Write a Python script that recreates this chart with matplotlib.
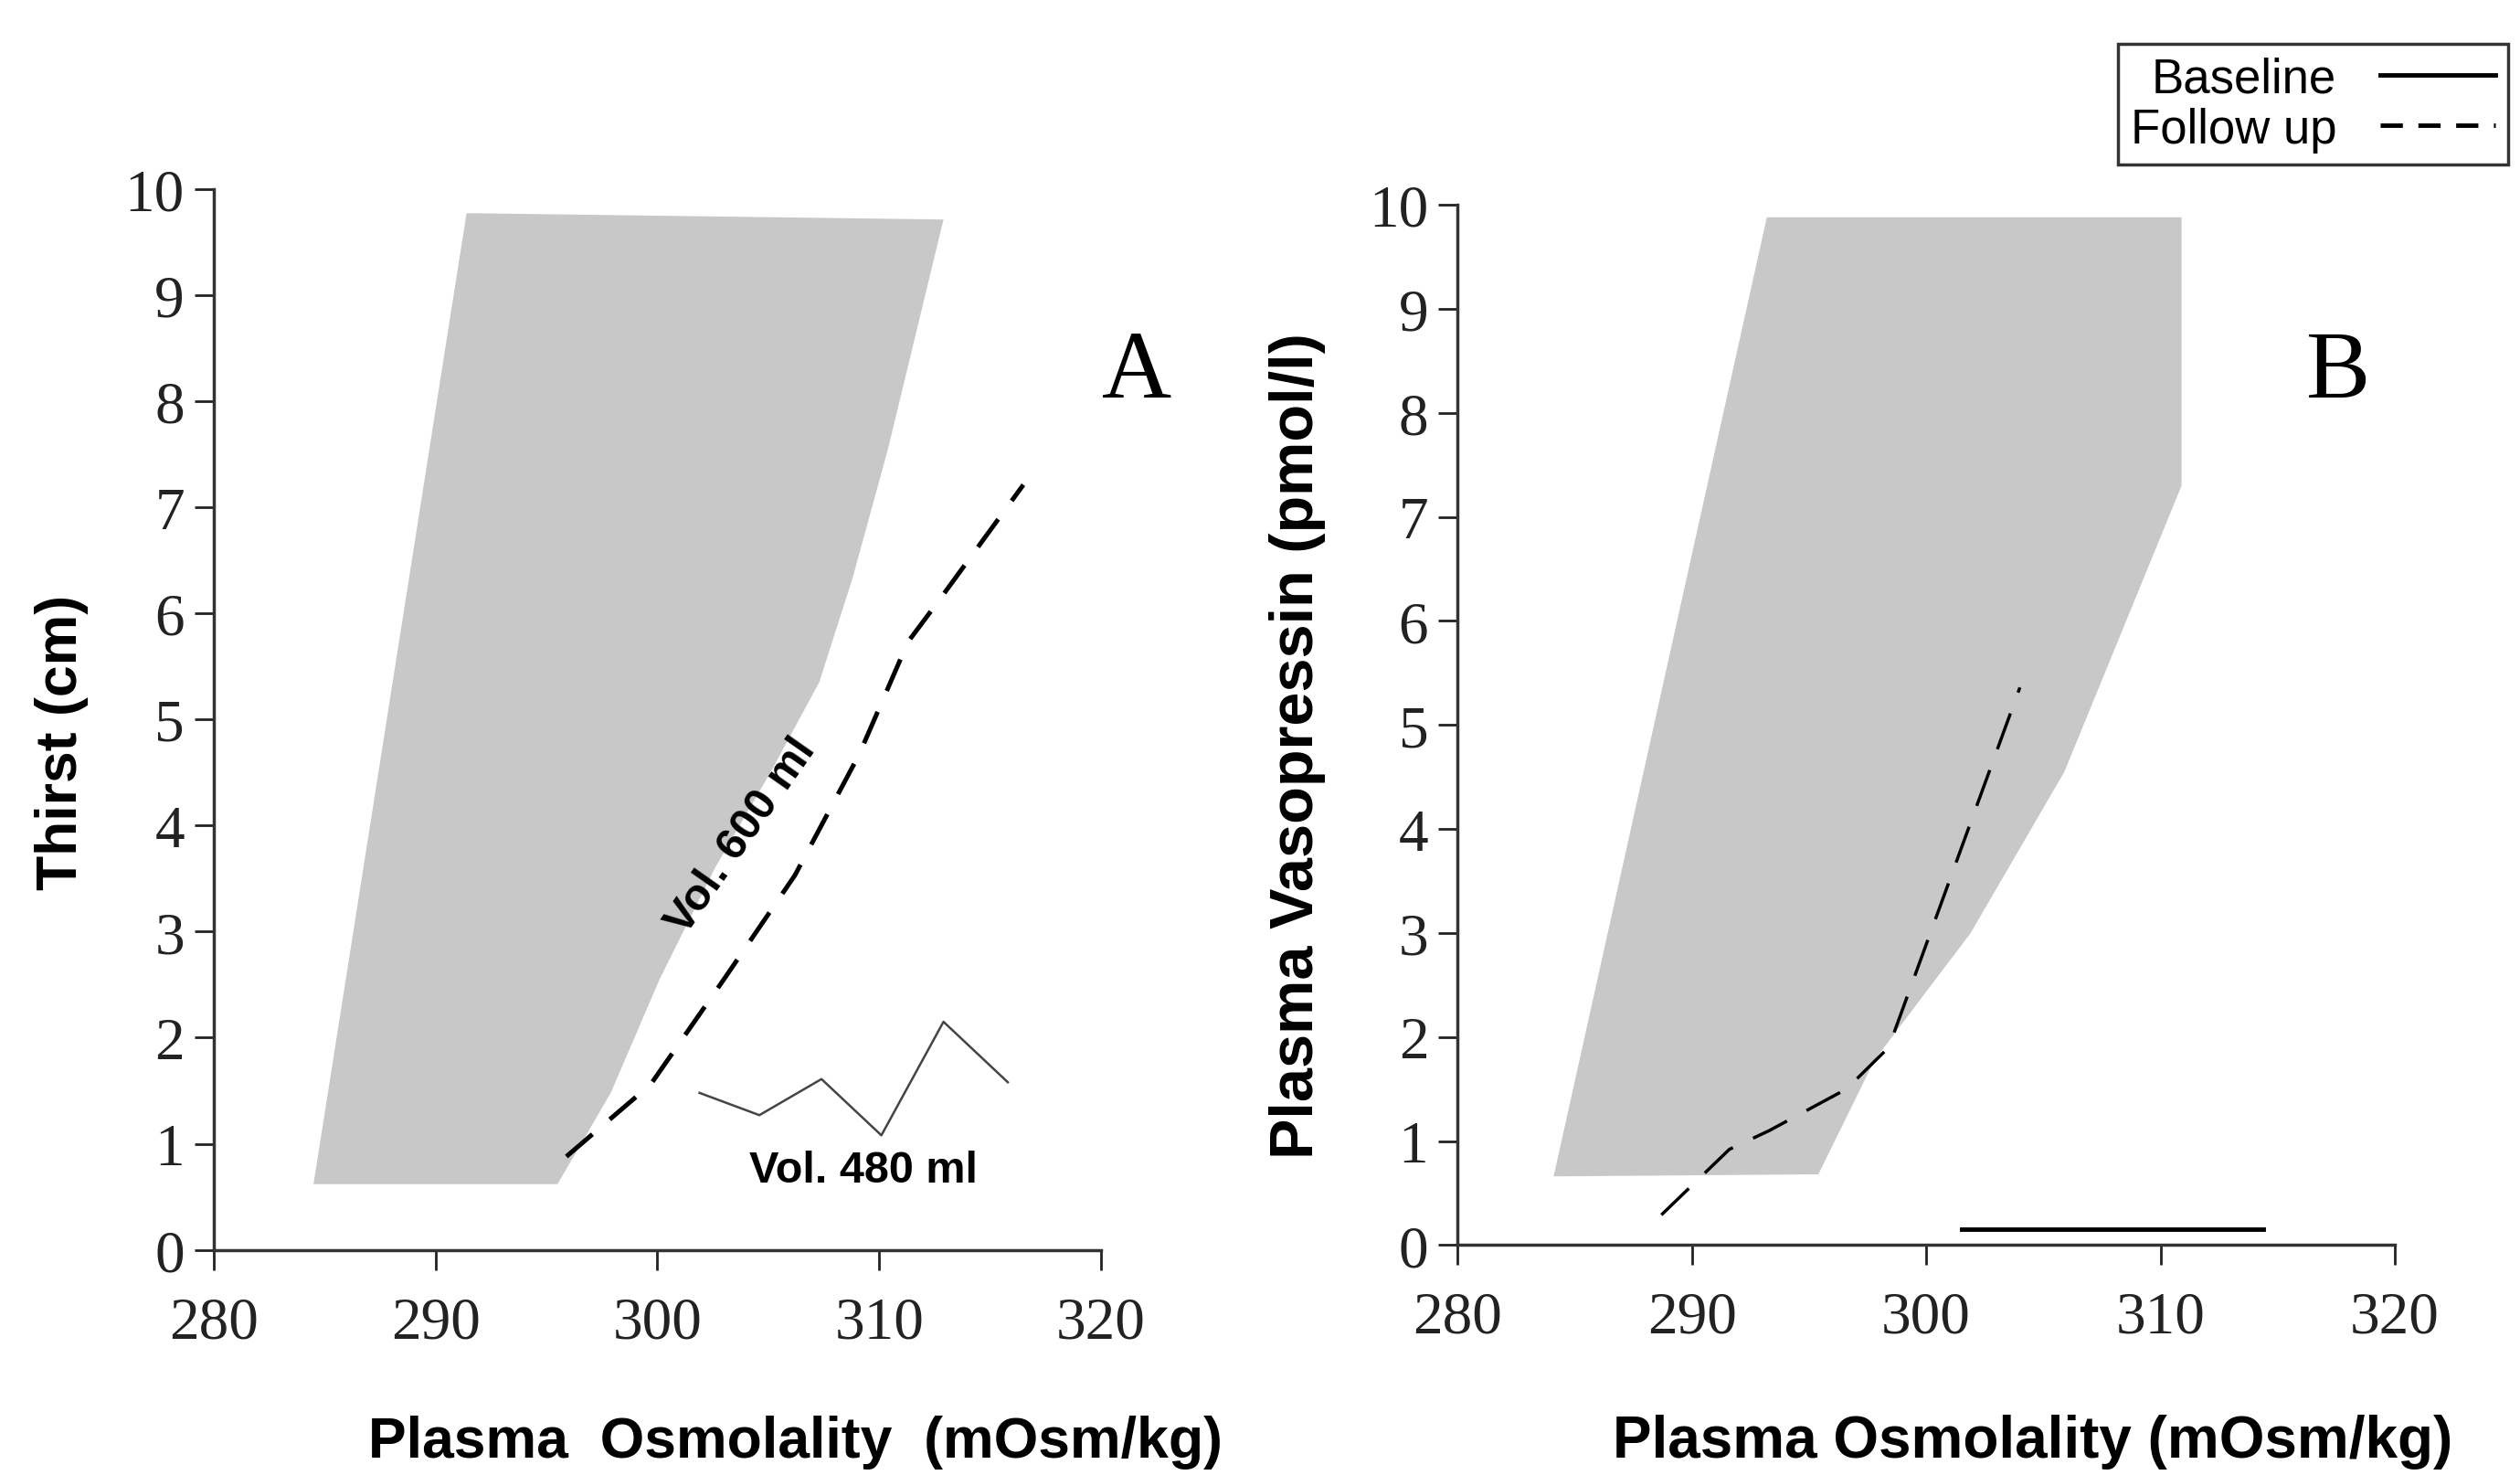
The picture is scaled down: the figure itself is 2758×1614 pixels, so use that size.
import matplotlib.pyplot as plt
from matplotlib.lines import Line2D

# Panel A: normal range band (thirst) and patient curves
band_a_x = [284.5, 295.5, 297.9, 300.1, 302.6, 305.1, 307.3, 308.8, 310.4, 312.9, 291.4]
band_a_y = [0.62, 0.62, 1.48, 2.55, 3.60, 4.50, 5.35, 6.33, 7.55, 9.71, 9.77]
follow_a_x = [295.9, 299.7, 303.0, 306.2, 309.1, 311.3, 312.8, 316.5]
follow_a_y = [0.88, 1.56, 2.55, 3.53, 4.67, 5.73, 6.15, 7.21]
base_a_x = [301.9, 304.6, 307.4, 310.1, 312.9, 315.8]
base_a_y = [1.48, 1.27, 1.61, 1.08, 2.15, 1.58]

# Panel B: normal range band (vasopressin) and patient curves
band_b_x = [284.1, 295.4, 297.8, 301.9, 305.9, 310.9, 310.9, 293.2]
band_b_y = [0.66, 0.68, 1.78, 3.00, 4.55, 7.30, 9.88, 9.88]
follow_b_x = [288.7, 291.6, 293.3, 296.6, 298.4, 304.0]
follow_b_y = [0.29, 0.92, 1.10, 1.50, 1.90, 5.36]
base_b_x = [301.5, 314.4]
base_b_y = [0.15, 0.15]

xticks = [280, 290, 300, 310, 320]
yticks = list(range(0, 11))

fig = plt.figure(figsize=(27.58, 16.15), dpi=100)
axA = fig.add_axes([0.0848, 0.1525, 0.3521, 0.7190])
axB = fig.add_axes([0.5784, 0.1558, 0.3719, 0.7048])

serif = "Liberation Serif"
sans = "Liberation Sans"

for ax in (axA, axB):
    ax.set_xlim(280, 320)
    ax.set_ylim(0, 10)
    ax.set_xticks(xticks)
    ax.set_yticks(yticks)
    for s in ("top", "right"):
        ax.spines[s].set_visible(False)
    for s in ("left", "bottom"):
        ax.spines[s].set_color("#333333")
        ax.spines[s].set_linewidth(2.5)
    ax.tick_params(axis="y", direction="out", length=15, width=2, pad=8,
                   colors="#222222", labelsize=47)
    ax.tick_params(axis="x", direction="out", length=16, width=2, pad=20,
                   colors="#222222", labelsize=47)
    for lab in ax.get_xticklabels() + ax.get_yticklabels():
        lab.set_fontfamily(serif)

# Panel A
axA.fill(band_a_x, band_a_y, color="#c8c8c8", lw=0)
axA.plot(follow_a_x, follow_a_y, color="black", lw=3.6, dashes=(7.5, 5))
axA.plot(base_a_x, base_a_y, color="#444444", lw=1.8)
axA.text(303.8, 3.9, "Vol. 600 ml", rotation=55, ha="center", va="center",
         fontsize=35, family=sans, fontweight="bold")
axA.text(309.3, 0.75, "Vol. 480 ml", ha="center", va="center",
         fontsize=35, family=sans, fontweight="bold")
axA.text(1.04, 0.826, "A", transform=axA.transAxes, ha="center", va="center",
         fontsize=76, family=serif, clip_on=False)
axA.set_xlabel("Plasma  Osmolality  (mOsm/kg)", fontsize=45, family=sans,
               fontweight="bold")
axA.xaxis.set_label_coords(0.656, -0.155)
axA.set_ylabel("Thirst (cm)", fontsize=45, family=sans, fontweight="bold")
axA.yaxis.set_label_coords(-0.141, 0.479)

# Panel B
axB.fill(band_b_x, band_b_y, color="#c8c8c8", lw=0)
axB.plot(follow_b_x, follow_b_y, color="black", lw=2.5, dashes=(12, 7))
axB.plot(base_b_x, base_b_y, color="black", lw=3.5)
axB.text(0.94, 0.838, "B", transform=axB.transAxes, ha="center", va="center",
         fontsize=76, family=serif, clip_on=False)
axB.set_xlabel("Plasma Osmolality (mOsm/kg)", fontsize=46, family=sans,
               fontweight="bold")
axB.xaxis.set_label_coords(0.614, -0.162)
axB.set_ylabel("Plasma Vasopressin (pmol/l)", fontsize=48, family=sans,
               fontweight="bold")
axB.yaxis.set_label_coords(-0.141, 0.481)

handles = [Line2D([], [], color="black", lw=3.5),
           Line2D([], [], color="black", lw=3.5, dashes=(5, 3.5))]
leg = fig.legend(handles, ["Baseline", "Follow up"], loc="upper left",
                 bbox_to_anchor=(0.8406, 0.9695), borderaxespad=0,
                 markerfirst=False, frameon=True, fancybox=False,
                 handlelength=2.4, handletextpad=0.9, labelspacing=0.1,
                 borderpad=0.25, prop={"family": sans, "size": 38})
leg.get_frame().set_edgecolor("black")
leg.get_frame().set_linewidth(2.5)

fig.savefig("out.png", dpi=100)
